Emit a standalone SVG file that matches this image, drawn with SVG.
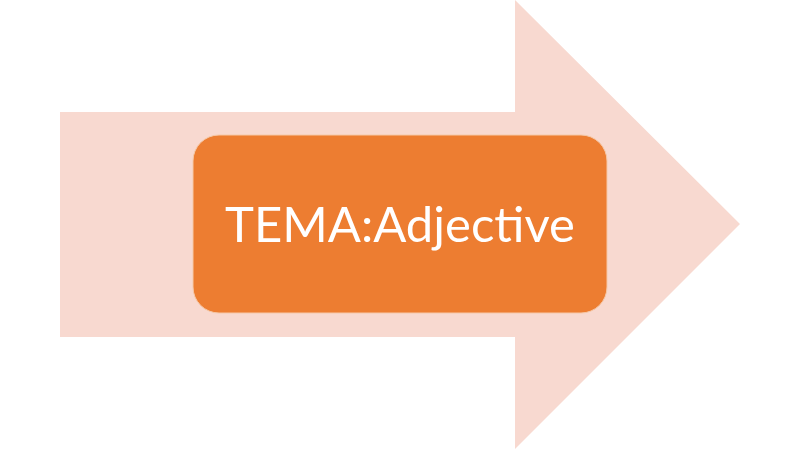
<svg xmlns="http://www.w3.org/2000/svg" width="800" height="449" viewBox="0 0 800 449">
<style>
.arrow{fill:#F8D9D0}
.box{fill:#ED7D31;stroke:#F6C9A8;stroke-width:1}
.lbl{font-family:Lato,"Liberation Sans",sans-serif;font-size:49px;fill:#FFFFFF;text-anchor:middle}
</style>
<rect width="800" height="449" fill="#FFFFFF"/>
<g id="arrow">
<polygon class="arrow" points="60,112 515,112 515,0 740,224 515,449 515,337 60,337"/>
</g>
<g id="node-tema">
<rect class="box" x="193" y="135" width="414" height="178" rx="26" ry="26"/>
<text class="lbl" x="400" y="242">TEMA:Adjective</text>
</g>
</svg>
